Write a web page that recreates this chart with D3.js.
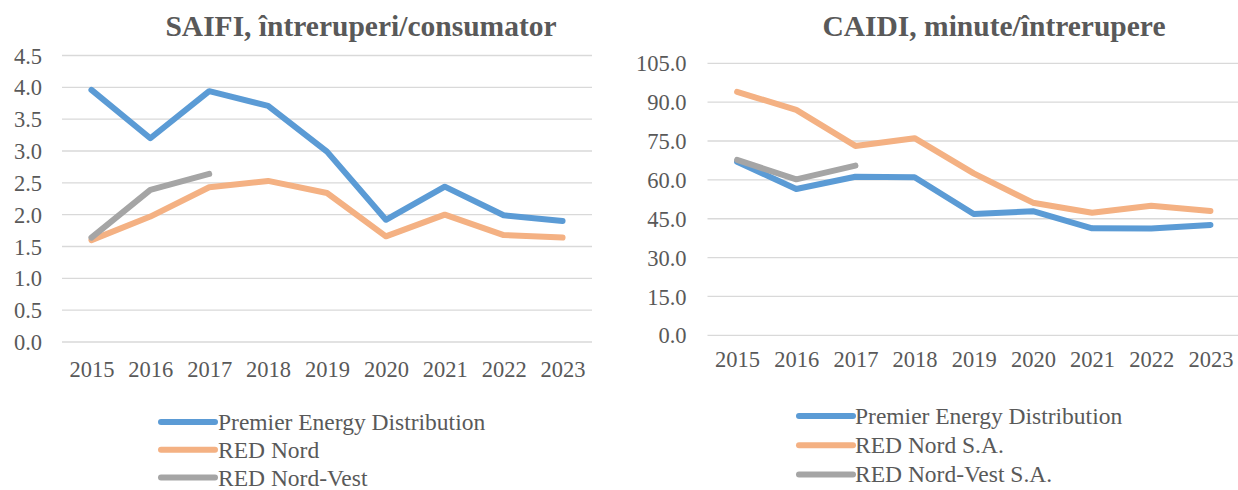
<!DOCTYPE html>
<html>
<head>
<meta charset="utf-8">
<script src="https://cdn.jsdelivr.net/npm/d3@7"></script>
<style>
  body { margin: 0; background: #fff; }
  svg { display: block; }
</style>
</head>
<body>
<svg id="chart" width="1238" height="490"></svg>
<script>
var years = ["2015", "2016", "2017", "2018", "2019", "2020", "2021", "2022", "2023"];

// SAIFI, intreruperi/consumator
var saifiPremier = [3.96, 3.20, 3.94, 3.71, 2.99, 1.92, 2.44, 1.99, 1.90];
var saifiRedNord = [1.60, 1.97, 2.43, 2.53, 2.34, 1.66, 2.00, 1.68, 1.64];
var saifiRedNordVest = [1.64, 2.39, 2.64];
var saifiTicks = [0, 0.5, 1, 1.5, 2, 2.5, 3, 3.5, 4, 4.5];

// CAIDI, minute/intrerupere
var caidiPremier = [67.0, 56.5, 61.2, 61.0, 46.8, 47.9, 41.3, 41.2, 42.6];
var caidiRedNord = [94.0, 87.0, 73.1, 76.1, 62.5, 51.2, 47.3, 50.0, 48.0];
var caidiRedNordVest = [67.7, 60.2, 65.5];
var caidiTicks = [0, 15, 30, 45, 60, 75, 90, 105];

var colors = ["#5B9BD5", "#F4B183", "#A5A5A5"];
var textColor = "#595959",
    gridColor = "#D9D9D9",
    serif = "'Liberation Serif', 'Times New Roman', serif";

var svg = d3.select("#chart");

function lineChart(opts) {
    var g = svg.append("g");

    var x = d3.scalePoint()
        .domain(years)
        .range([opts.left, opts.right])
        .padding(0.5);

    var y = d3.scaleLinear()
        .domain([0, d3.max(opts.ticks)])
        .range([opts.bottom, opts.top]);

    // gridlines
    g.selectAll("line.grid")
        .data(opts.ticks)
        .enter()
        .append("line")
        .attr("class", "grid")
        .attr("x1", opts.left)
        .attr("x2", opts.right)
        .attr("y1", function(d) { return y(d); })
        .attr("y2", function(d) { return y(d); })
        .style("stroke", gridColor)
        .style("stroke-width", 1.3);

    // y axis labels
    var yAxis = g.append("g")
        .attr("transform", "translate(" + opts.left + ",0)")
        .call(d3.axisLeft(y).tickValues(opts.ticks).tickFormat(d3.format(".1f")).tickSize(0).tickPadding(opts.yPad));
    yAxis.select(".domain").remove();
    yAxis.selectAll("text")
        .style("font-family", serif)
        .style("font-size", "22.5px")
        .style("fill", textColor)
        .attr("dy", "0.34em");

    // x axis labels
    var xAxis = g.append("g")
        .attr("transform", "translate(0," + opts.bottom + ")")
        .call(d3.axisBottom(x).tickSize(0).tickPadding(opts.xPad));
    xAxis.select(".domain").remove();
    xAxis.selectAll("text")
        .style("font-family", serif)
        .style("font-size", "22.5px")
        .style("fill", textColor);

    var line = d3.line()
        .x(function(d, i) { return x(years[i]); })
        .y(function(d) { return y(d); });

    opts.series.forEach(function(s, i) {
        g.append("path")
            .datum(s)
            .attr("d", line)
            .style("fill", "none")
            .style("stroke", colors[i])
            .style("stroke-width", 6)
            .style("stroke-linejoin", "round")
            .style("stroke-linecap", "round");
    });

    // title
    g.append("text")
        .attr("x", opts.titleX)
        .attr("y", 36)
        .attr("text-anchor", "middle")
        .style("font-family", serif)
        .style("font-weight", "bold")
        .style("font-size", "29.5px")
        .style("fill", textColor)
        .text(opts.title);

    // legend
    var legend = g.append("g")
        .selectAll("g")
        .data(opts.names)
        .enter()
        .append("g")
        .attr("transform", function(d, i) {
            return "translate(" + opts.legendX + "," + (opts.legendY + i * opts.legendStep) + ")";
        });

    legend.append("line")
        .attr("x1", 0)
        .attr("x2", 54)
        .style("stroke", function(d, i) { return colors[i]; })
        .style("stroke-width", 6)
        .style("stroke-linecap", "round");

    legend.append("text")
        .attr("x", opts.legendText)
        .attr("dy", "0.34em")
        .style("font-family", serif)
        .style("font-size", "23.5px")
        .style("fill", textColor)
        .text(function(d) { return d; });
}

lineChart({
    title: "SAIFI, întreruperi/consumator",
    titleX: 361,
    left: 62, right: 592, top: 55.5, bottom: 342,
    ticks: saifiTicks,
    series: [saifiPremier, saifiRedNord, saifiRedNordVest],
    names: ["Premier Energy Distribution", "RED Nord", "RED Nord-Vest"],
    yPad: 20, xPad: 19,
    legendX: 161, legendY: 422, legendStep: 27.8, legendText: 57
});

lineChart({
    title: "CAIDI, minute/întrerupere",
    titleX: 994,
    left: 707.5, right: 1240, top: 63.3, bottom: 335.3,
    ticks: caidiTicks,
    series: [caidiPremier, caidiRedNord, caidiRedNordVest],
    names: ["Premier Energy Distribution", "RED Nord S.A.", "RED Nord-Vest S.A."],
    yPad: 21, xPad: 16,
    legendX: 799, legendY: 416, legendStep: 29.2, legendText: 56
});
</script>
</body>
</html>
